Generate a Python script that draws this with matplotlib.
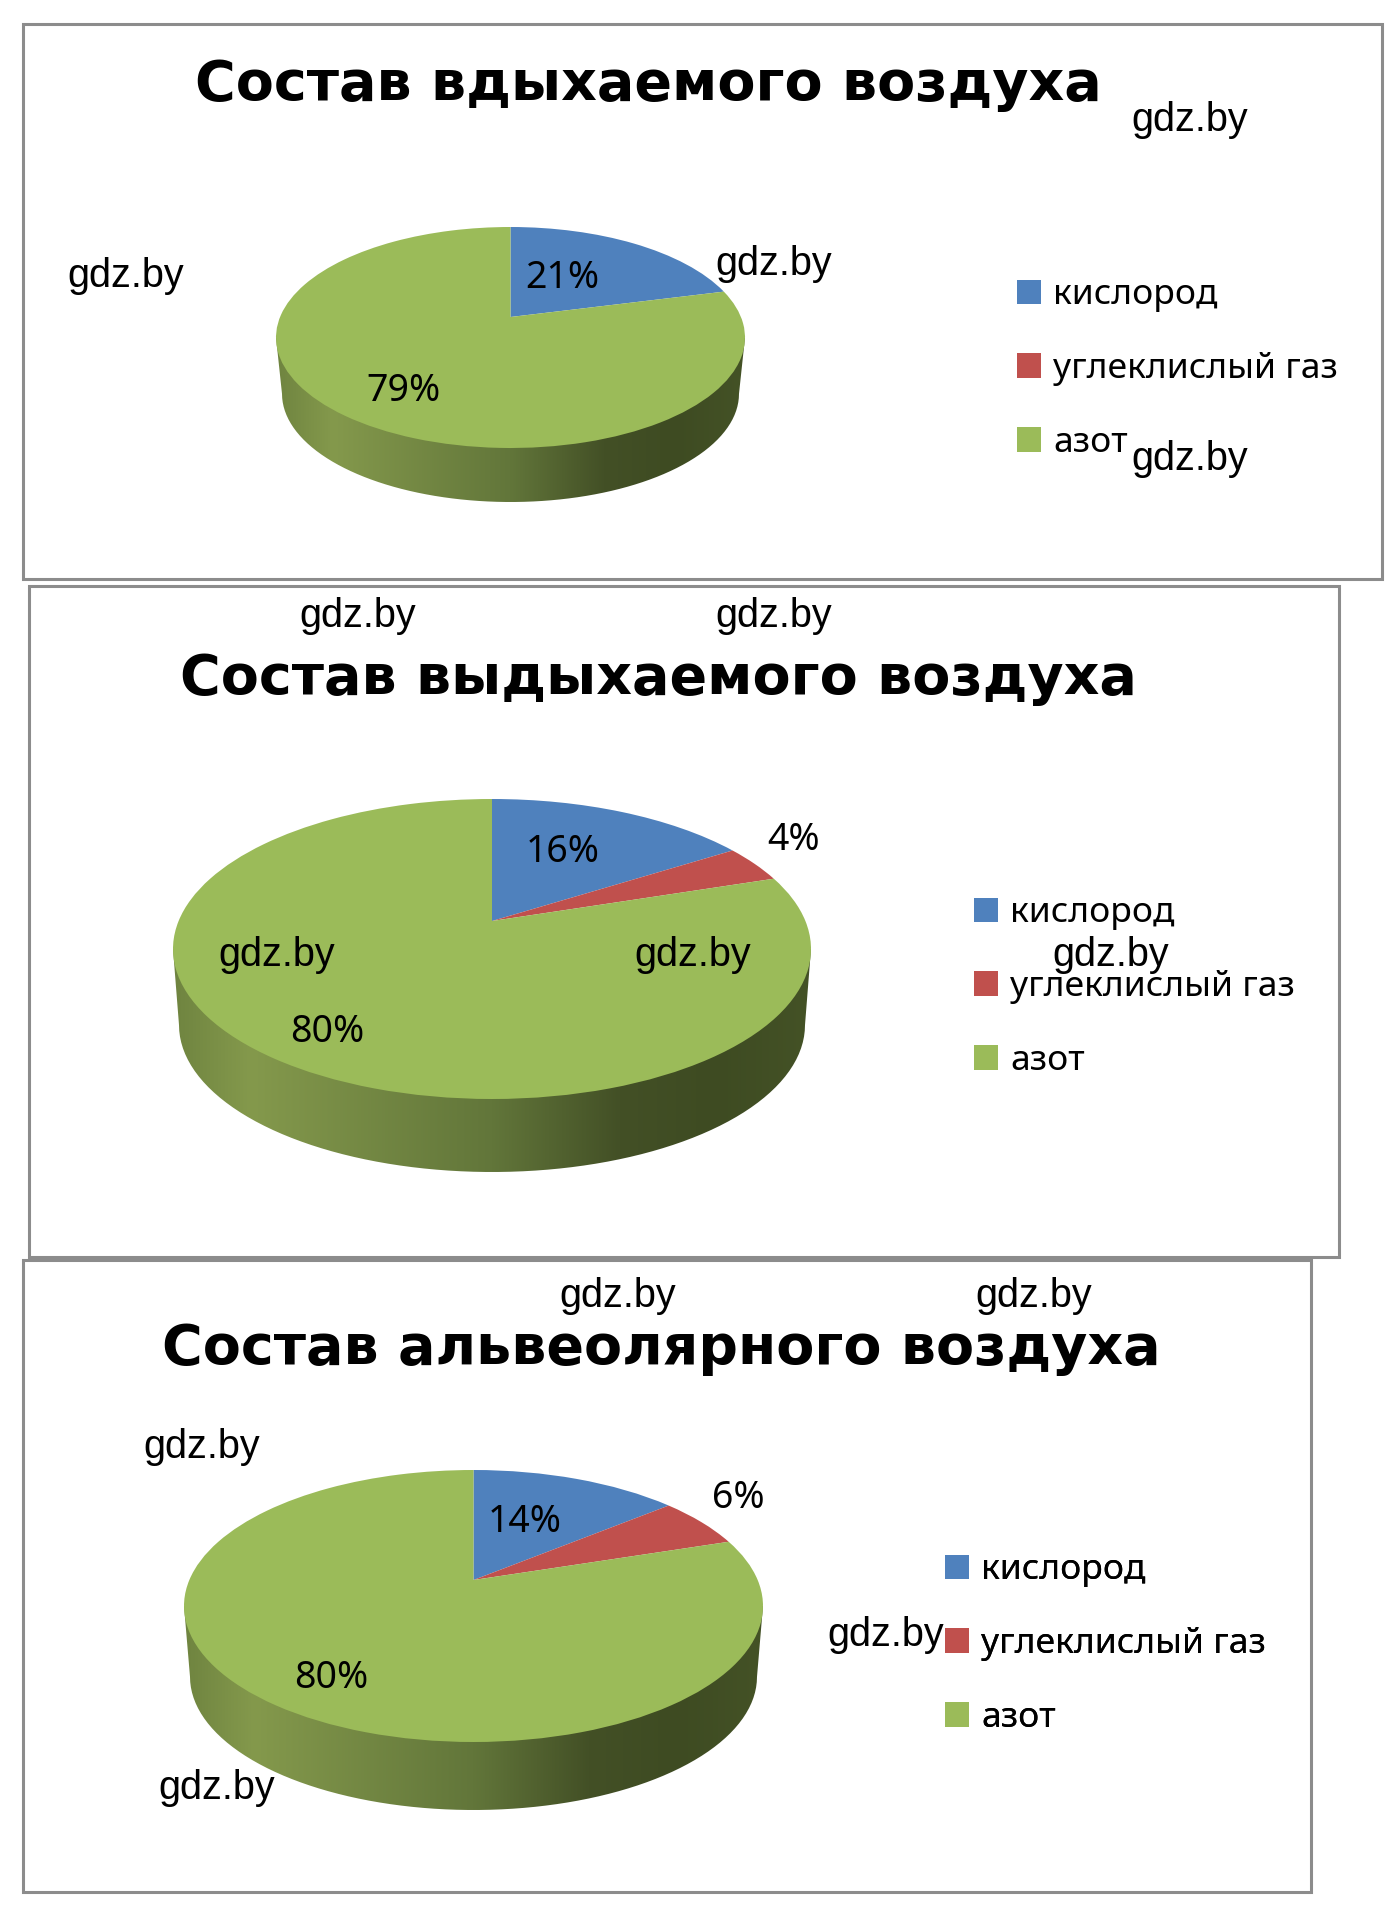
import numpy as np
import matplotlib
matplotlib.use('Agg')
import matplotlib.pyplot as plt
from matplotlib.colors import LinearSegmentedColormap
from matplotlib.patches import Rectangle
from matplotlib.path import Path
from matplotlib.transforms import Transform

W_PX = 1391
H_PX = 1913
S = 1391.0/1140.0   # text spots below

titles = ['Состав вдыхаемого воздуха', 'Состав выдыхаемого воздуха', 'Состав альвеолярного воздуха']
gases = ['кислород', 'углеклислый газ', 'азот']
inhaled = [21, 0, 79]
exhaled = [16, 4, 80]
alveolar = [14, 6, 80]
colors = ['#4f81bd', '#c0504d', '#9bbb59']
watermark = 'gdz.by'

# frame: left, top, right, bottom
frames = [(23, 24, 1382, 579), (29, 586, 1339, 1257), (23, 1260, 1311, 1892)]
# pie: cx, apex y, top y, bottom of surface, half width, bottom of side
pies = [(510.5, 317, 227, 448, 234.5, 502),
        (492, 921, 799, 1099, 319, 1172),
        (473.5, 1580, 1470, 1742, 289.5, 1810)]
title_pos = [(648.5, 100), (658, 694), (661, 1364)]
# value label centres per slice, None where no label
label_pos = [[(562, 278), None, (403, 391)],
             [(562.5, 852), (794, 840), (327, 1032)],
             [(525, 1522), (738, 1498), (331, 1678)]]
legend_pos = [(1017, 369), (974, 987), (945, 1644)]
marks = [(975, 98), (103, 226), (634, 216), (975, 376),
         (293, 505), (634, 505), (227, 783), (568, 783), (910, 783),
         (506, 1062), (847, 1062), (165, 1186), (726, 1340), (178, 1465)]

side_cmap = LinearSegmentedColormap.from_list('side', [(0.0, '#6f8440'), (0.12, '#84994c'),
                                                       (0.5, '#62763a'), (0.7, '#435026'),
                                                       (0.85, '#3e4b22'), (1.0, '#445226')])


class Tilt(Transform):
    '''Puts the unit circle of a pie on the tilted top of the drum.'''
    input_dims = 2
    output_dims = 2
    is_separable = False
    has_inverse = False

    def __init__(self, cx, apex, a, b, k):
        Transform.__init__(self)
        self.cx, self.apex, self.a, self.b, self.k = cx, apex, a, b, k

    def transform_non_affine(self, values):
        values = np.asarray(values)
        w = 1 + self.k*values[:, 1]
        return np.column_stack((self.cx + self.a*values[:, 0]/w,
                                self.apex - self.b*values[:, 1]/w))


def side_path(cx, top, surf, half, bottom):
    # outline of the rim, the top surface gets painted over it
    cy = (top + surf)/2.0
    hy = (surf - top)/2.0
    hb = half - 6
    vb = hy*0.98
    t = np.linspace(0, np.pi, 80)
    low_x = cx + hb*np.cos(t)
    low_y = (bottom - vb) + vb*np.sin(t)
    x = np.concatenate((low_x, [cx - half, cx + half]))
    y = np.concatenate((low_y, [cy, cy]))
    return Path(np.column_stack((x, y)), closed=False)


fig = plt.figure(figsize=(W_PX/100.0, H_PX/100.0), dpi=100)
ax = fig.add_axes([0, 0, 1, 1])

for i, values in enumerate([inhaled, exhaled, alveolar]):
    l, t, r, b = frames[i]
    ax.add_patch(Rectangle((l, t), r-l, b-t, fc='none', ec='#8c8c8c', lw=2.2, zorder=1))

    cx, apex, top, surf, half, bottom = pies[i]
    up = float(apex - top)
    down = float(surf - apex)
    k = (down - up)/(down + up)
    tilt = Tilt(cx, apex, half*np.sqrt(1 - k*k), up*(1 + k), k)

    grad = np.linspace(0, 1, 256)[None, :]
    im = ax.imshow(grad, cmap=side_cmap, extent=(cx-half, cx+half, bottom, top),
                   aspect='auto', zorder=2)
    im.set_clip_path(side_path(cx, top, surf, half, bottom), ax.transData)

    wedges, _ = ax.pie(values, colors=colors, startangle=90, counterclock=False,
                       wedgeprops={'linewidth': 0})
    for w in wedges:
        w.set_transform(tilt + ax.transData)
        w.set_zorder(3)

    for v, pos in zip(values, label_pos[i]):
        if pos is not None:
            ax.text(pos[0], pos[1], '%d%%' % v, family='Noto Sans', fontsize=27,
                    ha='center', va='center', color='black', zorder=5)

    ax.text(title_pos[i][0], title_pos[i][1], titles[i], family='DejaVu Sans', weight='bold',
            fontsize=40, ha='center', va='baseline', color='black', zorder=5)

    leg = ax.legend(wedges, gases, loc='center left', bbox_to_anchor=legend_pos[i],
                    bbox_transform=ax.transData, frameon=False, borderpad=0, borderaxespad=0,
                    handlelength=0.69, handleheight=0.69, handletextpad=0.34,
                    labelspacing=1.12, prop={'family': 'Noto Sans', 'size': 25.5})
    ax.add_artist(leg)

for x, y in marks:
    ax.text(x*S, y*S, watermark, family='Liberation Sans', fontsize=28.5,
            ha='center', va='center', color='black', zorder=6)

ax.set_aspect('auto')
ax.set_xlim(0, W_PX)
ax.set_ylim(H_PX, 0)
ax.axis('off')

fig.savefig('out.png', dpi=100, facecolor='white')
